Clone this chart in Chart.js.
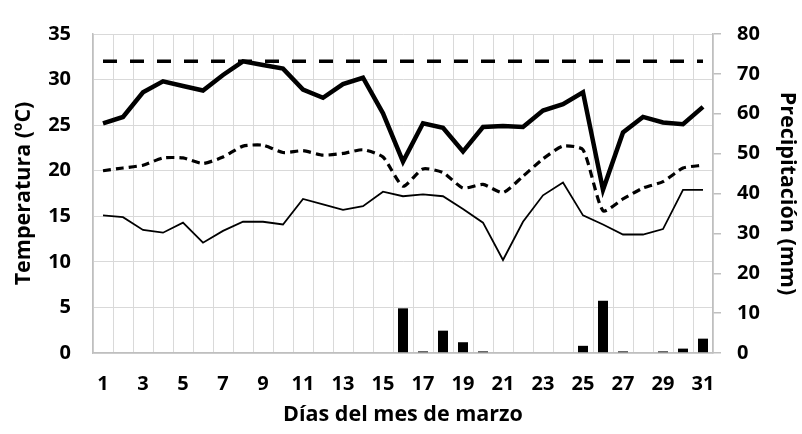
<!DOCTYPE html>
<html>
<head>
<meta charset="utf-8">
<script src="https://cdn.jsdelivr.net/npm/chart.js@4"></script>
<style>
  html, body { margin: 0; padding: 0; background: #ffffff; }
  #wrap { width: 802px; height: 434px; }
</style>
</head>
<body>
<div id="wrap"><canvas id="c" width="802" height="434"></canvas></div>
<script>
// ---- Data ----
const days = ['1','2','3','4','5','6','7','8','9','10','11','12','13','14','15','16',
              '17','18','19','20','21','22','23','24','25','26','27','28','29','30','31'];
const tempMax  = [25.2,25.9,28.6,29.8,29.3,28.8,30.5,32.0,31.6,31.2,28.9,28.0,29.5,30.2,26.3,21.0,
                  25.2,24.7,22.1,24.8,24.9,24.8,26.6,27.3,28.6,17.9,24.2,25.9,25.3,25.1,27.0];
const tempMean = [20.0,20.3,20.6,21.4,21.4,20.8,21.5,22.7,22.8,22.0,22.2,21.7,21.9,22.3,21.5,18.3,
                  20.2,19.8,18.1,18.5,17.6,19.4,21.3,22.7,22.3,15.6,16.9,18.1,18.8,20.3,20.6];
const tempMin  = [15.1,14.9,13.5,13.2,14.3,12.1,13.4,14.4,14.4,14.1,16.9,16.3,15.7,16.1,17.7,17.2,
                  17.4,17.2,15.8,14.3,10.2,14.4,17.3,18.7,15.1,14.1,13.0,13.0,13.6,17.9,17.9];
const precip   = [0,0,0,0,0,0,0,0,0,0,0,0,0,0,0,11.2,
                  0.4,5.6,2.7,0.4,0,0,0,0,1.8,13.1,0.4,0,0.4,1.1,3.6];
const thresholdTemp = 32;
const tempTicks = [0,5,10,15,20,25,30,35];
const precipTicks = [0,10,20,30,40,50,60,70,80];

const thresholdLine = days.map(() => thresholdTemp);

const FONT = "'Open Sans', 'DejaVu Sans', sans-serif";
const GRID = '#d9d9d9';
const AXIS = '#bfbfbf';
const TICK_FONT = { family: FONT, size: 20, weight: 'bold' };
const TITLE_FONT = { family: FONT, size: 21.5, weight: 'bold' };

new Chart(document.getElementById('c'), {
  type: 'bar',
  data: {
    labels: days,
    datasets: [
      { type: 'line', data: thresholdLine, yAxisID: 'yT', borderColor: '#000', borderWidth: 3.5,
        borderDash: [14, 13], pointRadius: 0, tension: 0, order: 1 },
      { type: 'line', data: tempMax, yAxisID: 'yT', borderColor: '#000', borderWidth: 4.5,
        pointRadius: 0, tension: 0, order: 1 },
      { type: 'line', data: tempMean, yAxisID: 'yT', borderColor: '#000', borderWidth: 3.2,
        borderDash: [8, 5], pointRadius: 0, tension: 0.2, order: 1 },
      { type: 'line', data: tempMin, yAxisID: 'yT', borderColor: '#000', borderWidth: 1.8,
        pointRadius: 0, tension: 0, order: 1 },
      { type: 'bar', data: precip, yAxisID: 'yP', backgroundColor: '#000', borderWidth: 0,
        categoryPercentage: 1, barPercentage: 0.5, order: 2 }
    ]
  },
  options: {
    responsive: false,
    devicePixelRatio: 1,
    animation: false,
    layout: { padding: { top: 23, left: 0, right: 0, bottom: 0 } },
    plugins: { legend: { display: false }, tooltip: { enabled: false } },
    scales: {
      x: {
        type: 'category',
        offset: true,
        grid: { offset: true, color: GRID, lineWidth: 1, drawTicks: false },
        border: { color: AXIS, width: 1.5 },
        ticks: {
          autoSkip: false, maxRotation: 0, minRotation: 0, padding: 19, color: '#000',
          font: TICK_FONT,
          callback: (v, i) => (i % 2 === 0 ? days[i] : '')
        },
        title: { display: true, text: 'Días del mes de marzo', color: '#000',
                 font: TITLE_FONT, padding: { top: 0, bottom: 6 } },
        afterFit: (s) => { s.height = 81; }
      },
      yT: {
        position: 'left',
        min: 0, max: 35,
        afterBuildTicks: (s) => { s.ticks = tempTicks.map(v => ({ value: v })); },
        grid: { color: GRID, lineWidth: 1, drawTicks: false },
        border: { color: AXIS, width: 1.5 },
        ticks: { padding: 22, color: '#000', font: TICK_FONT },
        title: { display: true, text: 'Temperatura (ºC)', color: '#000',
                 font: TITLE_FONT, padding: { top: 11, bottom: 0 } },
        afterFit: (s) => { s.width = 93; }
      },
      yP: {
        position: 'right',
        min: 0, max: 80,
        afterBuildTicks: (s) => { s.ticks = precipTicks.map(v => ({ value: v })); },
        grid: { drawOnChartArea: false, drawTicks: true, tickLength: 8, color: AXIS, lineWidth: 1.5 },
        border: { color: AXIS, width: 1.5 },
        ticks: { padding: 16, color: '#000', font: TICK_FONT },
        title: { display: true, text: 'Precipitación (mm)', color: '#000',
                 font: TITLE_FONT, padding: { top: 2, bottom: 0 } },
        afterFit: (s) => { s.width = 89; }
      }
    }
  }
});
</script>
</body>
</html>
